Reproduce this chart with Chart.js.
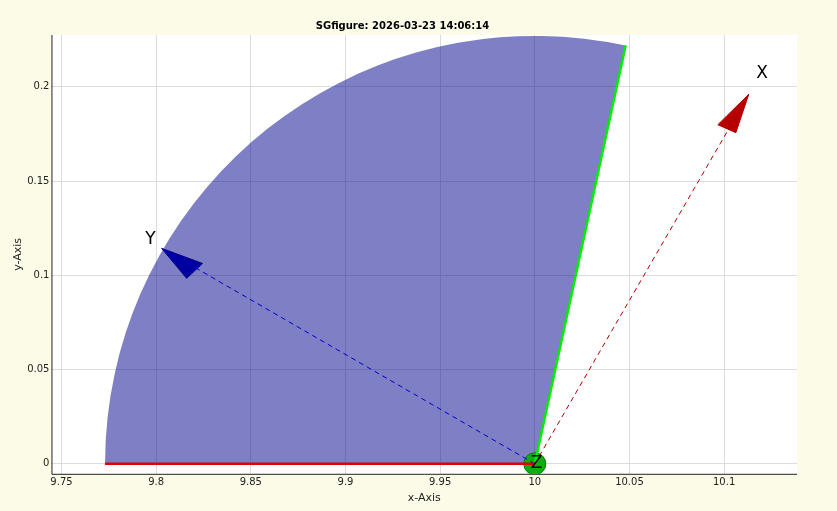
<!DOCTYPE html>
<html><head><meta charset="utf-8">
<script src="https://cdn.jsdelivr.net/npm/chart.js@4.4.1/dist/chart.umd.min.js"></script>
<style>html,body{margin:0;background:#fcfbe8;}#c{display:block}</style>
</head><body>
<div style="width:837px;height:511px"><canvas id="c"></canvas></div>
<script>
const titleText = "SGfigure: 2026-03-23 14:06:14";
const xTicks = [9.75, 9.8, 9.85, 9.9, 9.95, 10, 10.05, 10.1];
const yTicks = [0, 0.05, 0.1, 0.15, 0.2];
// sector: center, radius, angle range (deg)
const sectorCenter = [10, 0];
const sectorRadius = 0.227;
const sectorAngles = [77.8, 180];
const redEdge = [{x: 9.773, y: 0}, {x: 10, y: 0}];
const greenEdge = [{x: 10, y: 0}, {x: 10.048, y: 0.222}];
const xLine = [{x: 10, y: 0}, {x: 10.113, y: 0.196}];
const yLine = [{x: 10, y: 0}, {x: 9.803, y: 0.1143}];
const xHead = [{x: 10.113, y: 0.196}, {x: 10.0967, y: 0.1799}, {x: 10.1062, y: 0.1757}, {x: 10.113, y: 0.196}];
const yHead = [{x: 9.8029, y: 0.1143}, {x: 9.8161, y: 0.0984}, {x: 9.8245, y: 0.1063}, {x: 9.8029, y: 0.1143}];
const labels = [{t: "X", x: 10.12, y: 0.207}, {t: "Y", x: 9.797, y: 0.119}, {t: "Z", x: 10.001, y: 0}];

const sectorPlugin = {
  id: "sector",
  beforeDatasetsDraw(chart) {
    const {ctx, scales: {x, y}} = chart;
    const cx = x.getPixelForValue(sectorCenter[0]), cy = y.getPixelForValue(sectorCenter[1]);
    const rx = x.getPixelForValue(sectorCenter[0] + sectorRadius) - cx;
    const ry = cy - y.getPixelForValue(sectorRadius);
    ctx.save();
    ctx.beginPath();
    ctx.moveTo(cx, cy);
    ctx.ellipse(cx, cy, rx, ry, 0, -sectorAngles[0] * Math.PI / 180, -sectorAngles[1] * Math.PI / 180, true);
    ctx.closePath();
    ctx.fillStyle = "rgba(0,0,140,0.5)";
    ctx.fill();
    ctx.restore();
  },
  afterDatasetsDraw(chart) {
    const {ctx, scales: {x, y}} = chart;
    ctx.save();
    ctx.fillStyle = "#000";
    ctx.textAlign = "center"; ctx.textBaseline = "middle";
    ctx.font = "17px 'DejaVu Sans'";
    labels.forEach(l => ctx.fillText(l.t, x.getPixelForValue(l.x), y.getPixelForValue(l.y)));
    const a = chart.chartArea;
    ctx.strokeStyle = "#222"; ctx.lineWidth = 1;
    ctx.beginPath();
    ctx.moveTo(a.left + 0.5, a.top); ctx.lineTo(a.left + 0.5, a.bottom + 0.5); ctx.lineTo(a.right, a.bottom + 0.5);
    ctx.stroke();
    ctx.restore();
  }
};

const bgPlugin = {
  id: "bg",
  beforeDraw(chart) {
    const {ctx, chartArea: a} = chart;
    ctx.save();
    ctx.fillStyle = "#fcfbe8"; ctx.fillRect(0, 0, chart.width, chart.height);
    ctx.fillStyle = "#fff"; ctx.fillRect(a.left, a.top, a.right - a.left, a.bottom - a.top);
    ctx.restore();
  }
};

const line = (data, color, extra) => Object.assign({data, showLine: true, borderColor: color, pointRadius: 0, borderWidth: 1, fill: false}, extra);

new Chart(document.getElementById("c"), {
  type: "scatter",
  data: {
    datasets: [
      line(redEdge, "#e00000", {borderWidth: 2.5}),
      line(greenEdge, "#00ee00", {borderWidth: 2.5}),
      line(xLine, "#b00000", {borderDash: [5, 4]}),
      line(yLine, "#0000d0", {borderDash: [5, 4]}),
      line(xHead, "#b00000", {fill: "shape", backgroundColor: "#b80000"}),
      line(yHead, "#000090", {fill: "shape", backgroundColor: "#0000a0"}),
      {data: [{x: 10, y: 0}], pointRadius: 11, backgroundColor: "#0fae0f", borderColor: "#087a08", borderWidth: 1}
    ]
  },
  options: {
    responsive: true, maintainAspectRatio: false, animation: false,
    layout: {padding: {left: 8, right: 40, top: 0, bottom: 2}},
    plugins: {
      legend: {display: false}, tooltip: {enabled: false},
      title: {display: true, text: titleText, color: "#000", font: {family: "DejaVu Sans", size: 10, weight: "bold"}, padding: {top: 20, bottom: 3}}
    },
    scales: {
      x: {
        type: "linear", min: 9.7447, max: 10.1385,
        afterBuildTicks: s => { s.ticks = xTicks.map(v => ({value: v})); },
        ticks: {color: "#222", font: {family: "DejaVu Sans", size: 10}, callback: v => String(+v.toFixed(2)), maxRotation: 0},
        grid: {color: "#dcdcdc", drawTicks: false, tickLength: 0},
        border: {display: false},
        title: {display: true, text: "x-Axis", color: "#222", font: {family: "DejaVu Sans", size: 11}, padding: {top: 0}}
      },
      y: {
        type: "linear", min: -0.0053, max: 0.2275,
        afterBuildTicks: s => { s.ticks = yTicks.map(v => ({value: v})); },
        ticks: {color: "#222", font: {family: "DejaVu Sans", size: 10}, callback: v => String(+v.toFixed(2)), padding: 2},
        grid: {color: "#dcdcdc", drawTicks: false},
        border: {display: false},
        title: {display: true, text: "y-Axis", color: "#222", font: {family: "DejaVu Sans", size: 11}, padding: {bottom: 0}}
      }
    }
  },
  plugins: [bgPlugin, sectorPlugin]
});
</script>
</body></html>
